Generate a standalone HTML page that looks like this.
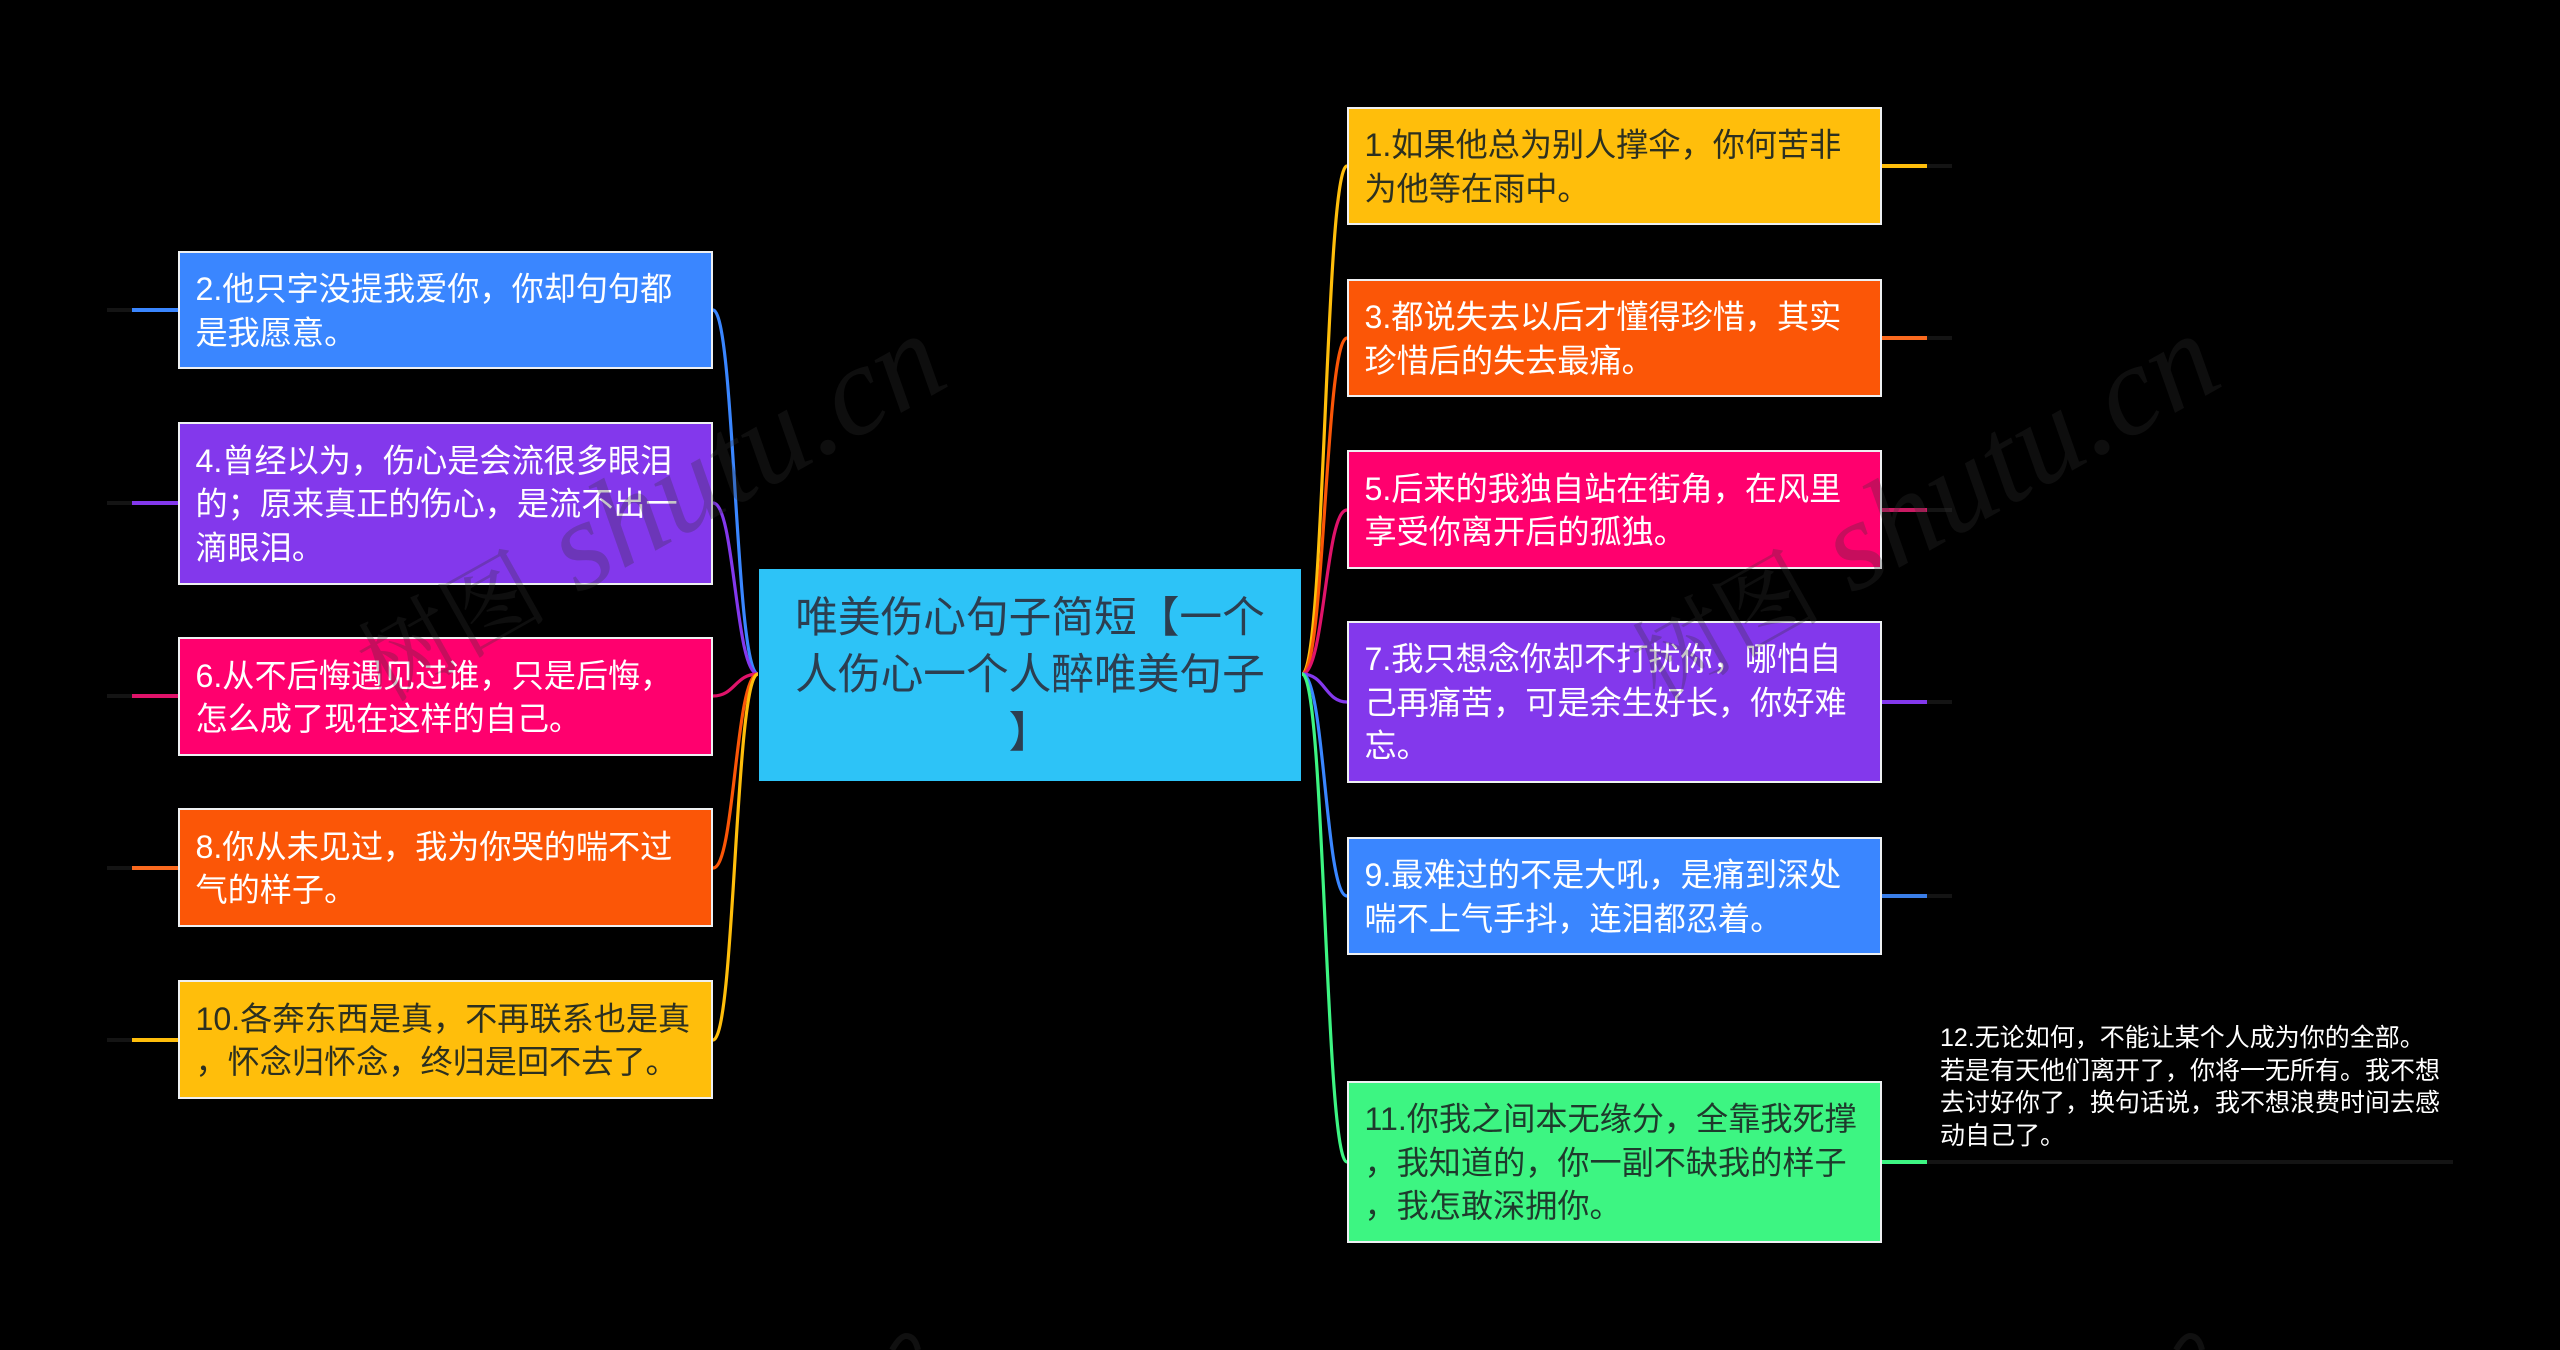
<!DOCTYPE html>
<html lang="zh">
<head>
<meta charset="utf-8">
<title>唯美伤心句子简短</title>
<style>
html,body{margin:0;padding:0;background:#000;overflow:hidden;}
#c{position:relative;width:2560px;height:1350px;overflow:hidden;background:#000;font-family:"Liberation Sans","Noto Sans CJK SC",sans-serif;}
svg{position:absolute;left:0;top:0;}
.n{position:absolute;box-sizing:border-box;border:2px solid #eef0f2;display:flex;align-items:center;padding-left:15.5px;padding-top:3px;font-size:32.15px;line-height:43.5px;color:#fff;white-space:nowrap;}
.d{color:#2c3020;}
.r{left:1347px;width:535px;}
.l{left:178px;width:535px;}
.m{position:absolute;left:759px;top:569px;width:542px;height:212px;box-sizing:border-box;padding-top:2px;background:#2dc3f7;color:#2c3e50;font-size:42.7px;line-height:57.5px;text-align:center;display:flex;align-items:center;justify-content:center;white-space:nowrap;}
.t{position:absolute;left:1940px;top:1022px;font-size:25px;line-height:32.7px;color:#fff;white-space:nowrap;}
</style>
</head>
<body>
<div id="c">
<svg width="2560" height="1350" fill="none" stroke-width="3.2">
<path d="M1302 674C1325 674 1325 166 1347 166" stroke="#ffbe0b"/>
<path d="M1302 674C1325 674 1325 338 1347 338" stroke="#fb5607"/>
<path d="M1302 674C1325 674 1325 510 1347 510" stroke="#e0136a"/>
<path d="M1302 674C1325 674 1325 702 1347 702" stroke="#8338ec"/>
<path d="M1302 674C1325 674 1325 896 1347 896" stroke="#3a86ff"/>
<path d="M1302 674C1325 674 1325 1162 1347 1162" stroke="#3df582"/>
<path d="M758 674C735 674 735 310 713 310" stroke="#3a86ff"/>
<path d="M758 674C735 674 735 503 713 503" stroke="#8338ec"/>
<path d="M758 674C735 674 735 696 713 696" stroke="#e0136a"/>
<path d="M758 674C735 674 735 868 713 868" stroke="#fb5607"/>
<path d="M758 674C735 674 735 1040 713 1040" stroke="#ffbe0b"/>
<g stroke-width="4">
<path d="M1927 166H1952M1927 338H1952M1927 510H1952M1927 702H1952M1927 896H1952M1927 1162H2453" stroke="#141414"/>
<path d="M107 310H132M107 503H132M107 696H132M107 868H132M107 1040H132" stroke="#141414"/>
<path d="M1882 166H1927" stroke="#ffbe0b"/>
<path d="M1882 338H1927" stroke="#fb6a1f"/>
<path d="M1882 510H1927" stroke="#c81a62"/>
<path d="M1882 702H1927" stroke="#8338ec"/>
<path d="M1882 896H1927" stroke="#3a7ee8"/>
<path d="M1882 1162H1927" stroke="#3df582"/>
<path d="M132 310H178" stroke="#3a86ff"/>
<path d="M132 503H178" stroke="#8338ec"/>
<path d="M132 696H178" stroke="#e0136a"/>
<path d="M132 868H178" stroke="#fb6a1f"/>
<path d="M132 1040H178" stroke="#ffbe0b"/>
</g>
<path d="M892 1350Q900 1336 906 1336Q915 1336 918 1350M2176 1350Q2184 1336 2190 1336Q2199 1336 2202 1350" stroke="#101010" stroke-width="6"/>
</svg>

<div class="m"><div>唯美伤心句子简短【一个<br>人伤心一个人醉唯美句子<br>】</div></div>

<div class="n r d" style="top:107px;height:118px;background:#ffbe0b;"><div>1.如果他总为别人撑伞，你何苦非<br>为他等在雨中。</div></div>
<div class="n r" style="top:279px;height:118px;background:#fb5607;"><div>3.都说失去以后才懂得珍惜，其实<br>珍惜后的失去最痛。</div></div>
<div class="n r" style="top:450px;height:119px;background:#ff006e;"><div>5.后来的我独自站在街角，在风里<br>享受你离开后的孤独。</div></div>
<div class="n r" style="top:621px;height:162px;background:#8338ec;"><div>7.我只想念你却不打扰你，哪怕自<br>己再痛苦，可是余生好长，你好难<br>忘。</div></div>
<div class="n r" style="top:837px;height:118px;background:#3a86ff;"><div>9.最难过的不是大吼，是痛到深处<br>喘不上气手抖，连泪都忍着。</div></div>
<div class="n r d" style="top:1081px;height:162px;background:#3df582;color:#1e3a2c;"><div>11.你我之间本无缘分，全靠我死撑<br>，我知道的，你一副不缺我的样子<br>，我怎敢深拥你。</div></div>

<div class="n l" style="top:251px;height:118px;background:#3a86ff;"><div>2.他只字没提我爱你，你却句句都<br>是我愿意。</div></div>
<div class="n l" style="top:422px;height:163px;background:#8338ec;"><div>4.曾经以为，伤心是会流很多眼泪<br>的；原来真正的伤心，是流不出一<br>滴眼泪。</div></div>
<div class="n l" style="top:637px;height:119px;background:#ff006e;"><div>6.从不后悔遇见过谁，只是后悔，<br>怎么成了现在这样的自己。</div></div>
<div class="n l" style="top:808px;height:119px;background:#fb5607;"><div>8.你从未见过，我为你哭的喘不过<br>气的样子。</div></div>
<div class="n l d" style="top:980px;height:119px;background:#ffbe0b;"><div>10.各奔东西是真，不再联系也是真<br>，怀念归怀念，终归是回不去了。</div></div>

<div class="t">12.无论如何，不能让某个人成为你的全部。<br>若是有天他们离开了，你将一无所有。我不想<br>去讨好你了，换句话说，我不想浪费时间去感<br>动自己了。</div>

<svg width="2560" height="1350" style="pointer-events:none">
<g fill="#323232" fill-opacity=".28" font-family="'Liberation Serif','Noto Serif CJK SC',serif" font-style="italic" font-size="128">
<text transform="translate(384,703) rotate(-29.3)"><tspan font-size="95" font-style="normal">树图</tspan> shutu.cn</text>
<text transform="translate(1658,703) rotate(-29.3)"><tspan font-size="95" font-style="normal">树图</tspan> shutu.cn</text>
</g>
</svg>
</div>
</body>
</html>
